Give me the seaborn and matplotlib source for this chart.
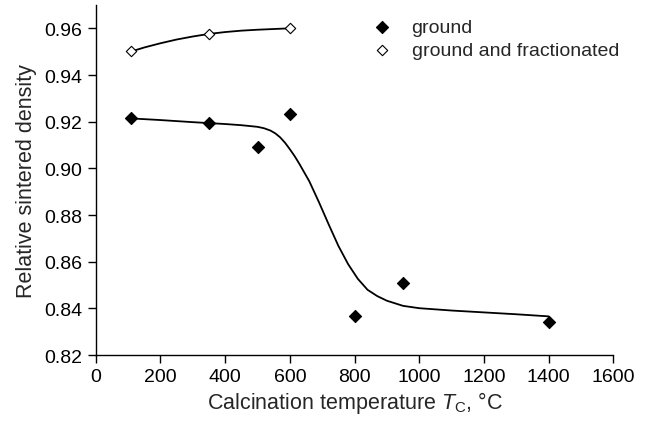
import numpy as np
import pandas as pd
import matplotlib
matplotlib.use("Agg")
import matplotlib.pyplot as plt
import seaborn as sns

# measured points
ground_T = [110, 350, 500, 600, 800, 950, 1400]
ground_rho = [0.9214, 0.9193, 0.9093, 0.9233, 0.8368, 0.8511, 0.8343]
frac_T = [110, 350, 600]
frac_rho = [0.9501, 0.9576, 0.9600]

# fitted curves
fit_ground_T = [110, 200, 300, 400, 450, 500, 520, 540, 555, 570, 585, 600, 615, 630,
                660, 690, 720, 750, 780, 810, 840, 870, 900, 950, 1000, 1100, 1200,
                1300, 1400]
fit_ground_rho = [0.9214, 0.9207, 0.9198, 0.9190, 0.9185, 0.9178, 0.9172, 0.9162,
                  0.9150, 0.9133, 0.9110, 0.9082, 0.9052, 0.9018, 0.8945, 0.8855,
                  0.8760, 0.8668, 0.8590, 0.8527, 0.8480, 0.8453, 0.8433, 0.8411,
                  0.8401, 0.8391, 0.8383, 0.8375, 0.8366]
fit_frac_T = [110, 150, 200, 250, 300, 350, 400, 450, 500, 550, 600]
fit_frac_rho = [0.9501, 0.9518, 0.9536, 0.9552, 0.9565, 0.9576, 0.9584, 0.9590,
                0.9594, 0.9597, 0.9600]

x_ticks = [0, 200, 400, 600, 800, 1000, 1200, 1400, 1600]
y_ticks = [0.82, 0.84, 0.86, 0.88, 0.90, 0.92, 0.94, 0.96]

sns.set_style("ticks")
plt.rcParams["font.family"] = ["Liberation Sans", "DejaVu Sans"]
plt.rcParams["mathtext.fontset"] = "custom"
plt.rcParams["mathtext.rm"] = "Liberation Sans"
plt.rcParams["mathtext.it"] = "Liberation Sans:italic"

fig = plt.figure(figsize=(6.47, 4.27), dpi=100)
ax = fig.add_axes([0.148, 0.166, 0.800, 0.820])

sns.lineplot(x=fit_ground_T, y=fit_ground_rho, color="black", lw=1.3, ax=ax)
sns.lineplot(x=fit_frac_T, y=fit_frac_rho, color="black", lw=1.3, ax=ax)

sns.scatterplot(x=ground_T, y=ground_rho, marker="D", s=38, color="black",
                edgecolor="black", linewidth=0.8, label="ground", ax=ax, zorder=3)
sns.scatterplot(x=frac_T, y=frac_rho, marker="D", s=28, facecolor="white",
                edgecolor="black", linewidth=0.8, label="ground and fractionated",
                ax=ax, zorder=3)

ax.set_xlim(0, 1600)
ax.set_ylim(0.82, 0.97)
ax.set_xticks(x_ticks)
ax.set_yticks(y_ticks)
ax.set_yticklabels([f"{v:.2f}" for v in y_ticks])
ax.tick_params(direction="out", length=6, width=1, labelsize=14, colors="black")
for s in ["left", "bottom"]:
    ax.spines[s].set_linewidth(1)
    ax.spines[s].set_color("black")
sns.despine(ax=ax)

ax.set_xlabel(r"Calcination temperature $\mathit{T}_\mathrm{C}$, °C", fontsize=15.5,
              labelpad=3)
ax.set_ylabel("Relative sintered density", fontsize=15.5, labelpad=5)

ax.legend(loc="upper left", bbox_to_anchor=(0.49, 1.0), frameon=False,
          fontsize=14, handletextpad=0.5, labelspacing=0.25, borderaxespad=0.3)

plt.savefig("out.png", dpi=100)
